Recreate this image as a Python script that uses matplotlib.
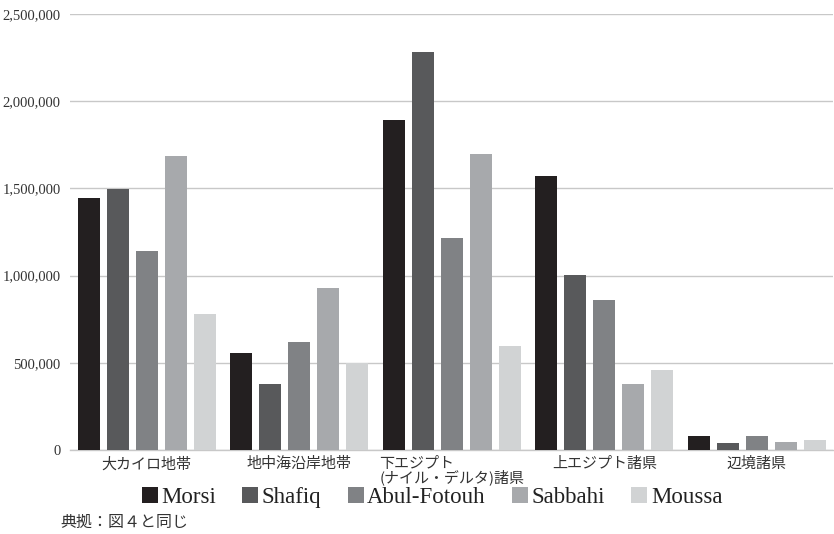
import numpy as np
import matplotlib.pyplot as plt
from matplotlib.patches import Patch
from matplotlib.ticker import FuncFormatter

# 地域ごとの候補者別得票数
regions = ['大カイロ地帯', '地中海沿岸地帯', '下エジプト\n(ナイル・デルタ)諸県', '上エジプト諸県', '辺境諸県']
candidates = ['Morsi', 'Shafiq', 'Abul-Fotouh', 'Sabbahi', 'Moussa']
morsi = [1444000, 555000, 1892000, 1569000, 80000]
shafiq = [1496000, 381000, 2284000, 1002000, 40000]
abul_fotouh = [1144000, 622000, 1215000, 858000, 80000]
sabbahi = [1686000, 927000, 1696000, 377000, 46000]
moussa = [783000, 500000, 596000, 458000, 57000]
y_ticks = [0, 500000, 1000000, 1500000, 2000000, 2500000]
source = '典拠：図４と同じ'

series = [morsi, shafiq, abul_fotouh, sabbahi, moussa]
colors = ['#231f20', '#58595b', '#808285', '#a7a9ac', '#d1d3d4']

serif = ['Liberation Serif', 'DejaVu Serif']
cjk = ['Noto Sans CJK JP', 'DejaVu Sans']

fig = plt.figure(figsize=(8.34, 5.34), dpi=100)
ax = fig.add_axes([0.0845, 0.157, 0.9145, 0.817])

x = np.arange(len(regions))
w = 0.144
step = 0.19
for i, vals in enumerate(series):
    ax.bar(x + (i - 2) * step, vals, width=w, color=colors[i], zorder=3)

ax.set_xlim(-0.5, len(regions) - 0.5)
ax.set_ylim(0, 2500000)
ax.set_yticks(y_ticks)
ax.yaxis.set_major_formatter(FuncFormatter(lambda v, p: f'{int(v):,}'))
ax.grid(axis='y', color='#c8c8c8', linewidth=1.0, zorder=0)
for s in ['top', 'right', 'left']:
    ax.spines[s].set_visible(False)
ax.spines['bottom'].set_color('#c8c8c8')
ax.spines['bottom'].set_linewidth(1.0)
ax.tick_params(axis='both', length=0)
ax.tick_params(axis='y', pad=7)
for lab in ax.get_yticklabels():
    lab.set_family(serif)
    lab.set_fontsize(10.5)
    lab.set_color('#333333')

ax.set_xticks(x)
ax.set_xticklabels([])
for xi, r in zip(x, regions):
    ax.annotate(r, xy=(xi, 0), xycoords=('data', 'axes fraction'),
                xytext=(0, -5), textcoords='offset points',
                ha='center', va='top', multialignment='left',
                family=cjk, fontsize=10.8, color='#333333', linespacing=0.9)

handles = [Patch(facecolor=c, edgecolor='none') for c in colors]
fig.legend(handles, candidates, loc='center', bbox_to_anchor=(0.518, 0.069),
           ncol=5, frameon=False, prop={'family': serif, 'size': 16.5},
           handlelength=0.7, handleheight=0.7, handletextpad=0.15,
           columnspacing=1.15, labelcolor='#222222')

fig.text(0.072, 0.006, source, family=cjk, fontsize=11.5, color='#333333',
         ha='left', va='bottom')

fig.savefig('out.png', dpi=100)
